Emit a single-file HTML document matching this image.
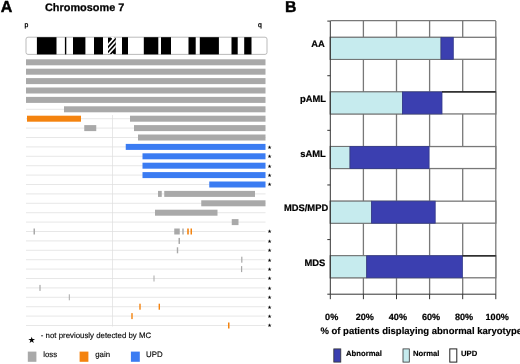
<!DOCTYPE html>
<html><head><meta charset="utf-8"><title>Chromosome 7</title>
<style>
html,body{margin:0;padding:0;background:#fff;}
body{width:520px;height:364px;overflow:hidden;}
svg{display:block;font-family:"Liberation Sans",Arial,sans-serif;text-rendering:geometricPrecision;}
</style></head><body>
<svg width="520" height="364" viewBox="0 0 520 364">
<rect width="520" height="364" fill="#fff"/>
<text x="0.7" y="12.3" font-size="16" font-weight="bold" fill="#000" stroke="#000" stroke-width="0.45">A</text>
<text x="45" y="10.5" font-size="10.9" font-weight="bold" fill="#000" stroke="#000" stroke-width="0.25">Chromosome 7</text>
<text x="24.6" y="27.2" font-size="6.8" fill="#000" stroke="#000" stroke-width="0.3">p</text>
<text x="258" y="27.0" font-size="6.8" fill="#000" stroke="#000" stroke-width="0.3">q</text>
<line x1="26.0" x2="265.5" y1="109.30" y2="109.30" stroke="#dcdcdc" stroke-width="0.7"/>
<line x1="26.0" x2="265.5" y1="118.70" y2="118.70" stroke="#dcdcdc" stroke-width="0.7"/>
<line x1="26.0" x2="265.5" y1="128.10" y2="128.10" stroke="#dcdcdc" stroke-width="0.7"/>
<line x1="26.0" x2="265.5" y1="137.50" y2="137.50" stroke="#dcdcdc" stroke-width="0.7"/>
<line x1="26.0" x2="265.5" y1="146.90" y2="146.90" stroke="#dcdcdc" stroke-width="0.7"/>
<line x1="26.0" x2="265.5" y1="156.30" y2="156.30" stroke="#dcdcdc" stroke-width="0.7"/>
<line x1="26.0" x2="265.5" y1="165.70" y2="165.70" stroke="#dcdcdc" stroke-width="0.7"/>
<line x1="26.0" x2="265.5" y1="175.10" y2="175.10" stroke="#dcdcdc" stroke-width="0.7"/>
<line x1="26.0" x2="265.5" y1="184.50" y2="184.50" stroke="#dcdcdc" stroke-width="0.7"/>
<line x1="26.0" x2="265.5" y1="193.90" y2="193.90" stroke="#dcdcdc" stroke-width="0.7"/>
<line x1="26.0" x2="265.5" y1="203.30" y2="203.30" stroke="#dcdcdc" stroke-width="0.7"/>
<line x1="26.0" x2="265.5" y1="212.70" y2="212.70" stroke="#dcdcdc" stroke-width="0.7"/>
<line x1="26.0" x2="265.5" y1="222.10" y2="222.10" stroke="#dcdcdc" stroke-width="0.7"/>
<line x1="26.0" x2="265.5" y1="231.50" y2="231.50" stroke="#dcdcdc" stroke-width="0.7"/>
<line x1="26.0" x2="265.5" y1="240.90" y2="240.90" stroke="#dcdcdc" stroke-width="0.7"/>
<line x1="26.0" x2="265.5" y1="250.30" y2="250.30" stroke="#dcdcdc" stroke-width="0.7"/>
<line x1="26.0" x2="265.5" y1="259.70" y2="259.70" stroke="#dcdcdc" stroke-width="0.7"/>
<line x1="26.0" x2="265.5" y1="269.10" y2="269.10" stroke="#dcdcdc" stroke-width="0.7"/>
<line x1="26.0" x2="265.5" y1="278.50" y2="278.50" stroke="#dcdcdc" stroke-width="0.7"/>
<line x1="26.0" x2="265.5" y1="287.90" y2="287.90" stroke="#dcdcdc" stroke-width="0.7"/>
<line x1="26.0" x2="265.5" y1="297.30" y2="297.30" stroke="#dcdcdc" stroke-width="0.7"/>
<line x1="26.0" x2="265.5" y1="306.70" y2="306.70" stroke="#dcdcdc" stroke-width="0.7"/>
<line x1="26.0" x2="265.5" y1="316.10" y2="316.10" stroke="#dcdcdc" stroke-width="0.7"/>
<line x1="26.0" x2="265.5" y1="325.50" y2="325.50" stroke="#dcdcdc" stroke-width="0.7"/>
<line x1="112.5" x2="112.5" y1="115" y2="326.5" stroke="#dedede" stroke-width="0.7"/>
<rect x="26.0" y="59.30" width="239.50" height="6.0" fill="#a9a9a9"/>
<rect x="26.0" y="68.70" width="239.50" height="6.0" fill="#a9a9a9"/>
<rect x="26.0" y="78.10" width="239.50" height="6.0" fill="#a9a9a9"/>
<rect x="26.0" y="87.50" width="239.50" height="6.0" fill="#a9a9a9"/>
<rect x="26.0" y="96.90" width="239.50" height="6.0" fill="#a9a9a9"/>
<rect x="64" y="106.30" width="201.50" height="6.0" fill="#a9a9a9"/>
<rect x="27" y="115.70" width="54.00" height="6.0" fill="#f4830f"/>
<rect x="130" y="115.70" width="135.50" height="6.0" fill="#a9a9a9"/>
<rect x="84.25" y="125.10" width="12.00" height="6.0" fill="#a9a9a9"/>
<rect x="134" y="125.10" width="131.50" height="6.0" fill="#a9a9a9"/>
<rect x="138" y="134.50" width="127.50" height="6.0" fill="#a9a9a9"/>
<rect x="125.75" y="143.90" width="139.75" height="6.0" fill="#3b7cf2"/>
<rect x="142.5" y="153.30" width="123.00" height="6.0" fill="#3b7cf2"/>
<rect x="142.5" y="162.70" width="123.00" height="6.0" fill="#3b7cf2"/>
<rect x="142.5" y="172.10" width="123.00" height="6.0" fill="#3b7cf2"/>
<rect x="209.25" y="181.50" width="56.25" height="6.0" fill="#3b7cf2"/>
<rect x="158" y="190.90" width="3.75" height="6.0" fill="#a9a9a9"/>
<rect x="164.25" y="190.90" width="90.75" height="6.0" fill="#a9a9a9"/>
<rect x="201.25" y="200.30" width="64.25" height="6.0" fill="#a9a9a9"/>
<rect x="155" y="209.70" width="62.50" height="6.0" fill="#a9a9a9"/>
<rect x="231.75" y="219.10" width="6.75" height="6.0" fill="#a9a9a9"/>
<rect x="33.5" y="228.50" width="1.50" height="6.0" fill="#a9a9a9"/>
<rect x="174.25" y="228.50" width="5.50" height="6.0" fill="#a9a9a9"/>
<rect x="182.3" y="228.50" width="1.40" height="6.0" fill="#a9a9a9"/>
<rect x="187.2" y="228.50" width="1.60" height="6.0" fill="#f4830f"/>
<rect x="190.5" y="228.50" width="1.50" height="6.0" fill="#f4830f"/>
<rect x="178.5" y="237.90" width="1.50" height="6.0" fill="#a9a9a9"/>
<rect x="176.8" y="247.30" width="1.40" height="6.0" fill="#a9a9a9"/>
<rect x="241.2" y="256.70" width="1.20" height="6.0" fill="#a9a9a9"/>
<rect x="241" y="266.10" width="1.20" height="6.0" fill="#a9a9a9"/>
<rect x="153.5" y="275.50" width="1.00" height="6.0" fill="#a9a9a9"/>
<rect x="39.4" y="284.90" width="1.20" height="6.0" fill="#a9a9a9"/>
<rect x="68.8" y="294.30" width="1.00" height="6.0" fill="#a9a9a9"/>
<rect x="139.3" y="303.70" width="1.40" height="6.0" fill="#f4830f"/>
<rect x="158.6" y="303.70" width="1.40" height="6.0" fill="#f4830f"/>
<rect x="131.3" y="313.10" width="1.40" height="6.0" fill="#f4830f"/>
<rect x="228" y="322.50" width="1.50" height="6.0" fill="#f4830f"/>
<text x="269.6" y="148.70" font-size="5.2" text-anchor="middle" fill="#000">★</text>
<text x="269.6" y="158.10" font-size="5.2" text-anchor="middle" fill="#000">★</text>
<text x="269.6" y="167.50" font-size="5.2" text-anchor="middle" fill="#000">★</text>
<text x="269.6" y="176.90" font-size="5.2" text-anchor="middle" fill="#000">★</text>
<text x="269.6" y="186.30" font-size="5.2" text-anchor="middle" fill="#000">★</text>
<text x="269.6" y="233.30" font-size="5.2" text-anchor="middle" fill="#000">★</text>
<text x="269.6" y="242.70" font-size="5.2" text-anchor="middle" fill="#000">★</text>
<text x="269.6" y="252.10" font-size="5.2" text-anchor="middle" fill="#000">★</text>
<text x="269.6" y="261.50" font-size="5.2" text-anchor="middle" fill="#000">★</text>
<text x="269.6" y="270.90" font-size="5.2" text-anchor="middle" fill="#000">★</text>
<text x="269.6" y="280.30" font-size="5.2" text-anchor="middle" fill="#000">★</text>
<text x="269.6" y="289.70" font-size="5.2" text-anchor="middle" fill="#000">★</text>
<text x="269.6" y="299.10" font-size="5.2" text-anchor="middle" fill="#000">★</text>
<text x="269.6" y="308.50" font-size="5.2" text-anchor="middle" fill="#000">★</text>
<text x="269.6" y="317.90" font-size="5.2" text-anchor="middle" fill="#000">★</text>
<text x="269.6" y="327.30" font-size="5.2" text-anchor="middle" fill="#000">★</text>
<rect x="26" y="37.2" width="241" height="17.20" rx="2" fill="#fff" stroke="#aaa" stroke-width="0.8"/>
<rect x="36.9" y="37.2" width="19.60" height="17.199999999999996" fill="#000"/>
<rect x="64.9" y="37.2" width="1.40" height="17.199999999999996" fill="#000"/>
<rect x="73" y="37.2" width="12.40" height="17.199999999999996" fill="#000"/>
<rect x="94" y="37.2" width="9.00" height="17.199999999999996" fill="#000"/>
<rect x="122" y="37.2" width="6.00" height="17.199999999999996" fill="#000"/>
<rect x="143.8" y="37.2" width="14.50" height="17.199999999999996" fill="#000"/>
<rect x="161" y="37.2" width="10.00" height="17.199999999999996" fill="#000"/>
<rect x="188.5" y="37.2" width="7.20" height="17.199999999999996" fill="#000"/>
<rect x="199.8" y="37.2" width="19.10" height="17.199999999999996" fill="#000"/>
<rect x="231.5" y="37.2" width="6.20" height="17.199999999999996" fill="#000"/>
<rect x="244.2" y="37.2" width="7.30" height="17.199999999999996" fill="#000"/>
<clipPath id="cen"><rect x="108" y="37.6" width="7.8" height="16.5"/></clipPath>
<rect x="108" y="37.6" width="7.8" height="16.5" fill="#000"/>
<g clip-path="url(#cen)" stroke="#fff" stroke-width="1.7"><line x1="106.5" y1="46.4" x2="116.5" y2="35.4"/><line x1="106.5" y1="51.3" x2="116.5" y2="40.3"/><line x1="106.5" y1="56.2" x2="116.5" y2="45.2"/></g>
<path d="M110.8 37 L112.6 39.4 L114.4 37 Z M111 54.8 L112.7 53 L114.4 54.8 Z" fill="#fff"/>
<text x="31.8" y="343.2" font-size="8.8" text-anchor="middle" fill="#000">★</text>
<text x="40.8" y="337.5" font-size="7.85" fill="#000" stroke="#000" stroke-width="0.12">- not previously detected by MC</text>
<rect x="27.8" y="351.6" width="8.6" height="10.2" fill="#a9a9a9"/>
<text x="43.2" y="356.5" font-size="7.85" fill="#000" stroke="#000" stroke-width="0.12">loss</text>
<rect x="79.6" y="351.6" width="8.8" height="10.2" fill="#f4830f"/>
<text x="95.2" y="356.5" font-size="7.85" fill="#000" stroke="#000" stroke-width="0.12">gain</text>
<rect x="130.9" y="351.6" width="8.9" height="10.2" fill="#3b7cf2"/>
<text x="146" y="356.5" font-size="7.85" fill="#000" stroke="#000" stroke-width="0.12">UPD</text>
<text x="285" y="12.1" font-size="15.8" font-weight="bold" fill="#000" stroke="#000" stroke-width="0.4">B</text>
<line x1="363.40" x2="363.40" y1="21.1" y2="294.2" stroke="#787878" stroke-width="1.3"/>
<line x1="396.50" x2="396.50" y1="21.1" y2="294.2" stroke="#787878" stroke-width="1.3"/>
<line x1="429.60" x2="429.60" y1="21.1" y2="294.2" stroke="#787878" stroke-width="1.3"/>
<line x1="462.70" x2="462.70" y1="21.1" y2="294.2" stroke="#787878" stroke-width="1.3"/>
<line x1="330.3" x2="495.8" y1="20.7" y2="20.7" stroke="#787878" stroke-width="1.3"/>
<line x1="495.8" x2="495.8" y1="21.1" y2="294.2" stroke="#787878" stroke-width="1.3"/>
<rect x="330.3" y="37.31" width="165.50" height="22" fill="#fff" stroke="#787878" stroke-width="1.3"/>
<rect x="330.3" y="37.31" width="110.70" height="22" fill="#c6ebee" stroke="#666" stroke-width="0.8"/>
<rect x="441" y="37.31" width="12.30" height="22" fill="#3b3fb0" stroke="#333a8a" stroke-width="0.8"/>
<text x="324.8" y="47.31" font-size="9.4" font-weight="bold" text-anchor="end" fill="#000" stroke="#000" stroke-width="0.2">AA</text>
<rect x="330.3" y="91.93" width="165.50" height="22" fill="#fff" stroke="#787878" stroke-width="1.3"/>
<rect x="330.3" y="91.93" width="72.10" height="22" fill="#c6ebee" stroke="#666" stroke-width="0.8"/>
<rect x="402.4" y="91.93" width="39.60" height="22" fill="#3b3fb0" stroke="#333a8a" stroke-width="0.8"/>
<line x1="442" x2="495.8" y1="91.93" y2="91.93" stroke="#111" stroke-width="1.2"/>
<text x="326" y="101.93" font-size="9.4" font-weight="bold" text-anchor="end" fill="#000" stroke="#000" stroke-width="0.2">pAML</text>
<rect x="330.3" y="146.55" width="165.50" height="22" fill="#fff" stroke="#787878" stroke-width="1.3"/>
<rect x="330.3" y="146.55" width="19.70" height="22" fill="#c6ebee" stroke="#666" stroke-width="0.8"/>
<rect x="350" y="146.55" width="79.10" height="22" fill="#3b3fb0" stroke="#333a8a" stroke-width="0.8"/>
<text x="325.8" y="156.55" font-size="9.4" font-weight="bold" text-anchor="end" fill="#000" stroke="#000" stroke-width="0.2">sAML</text>
<rect x="330.3" y="201.17" width="165.50" height="22" fill="#fff" stroke="#787878" stroke-width="1.3"/>
<rect x="330.3" y="201.17" width="41.30" height="22" fill="#c6ebee" stroke="#666" stroke-width="0.8"/>
<rect x="371.6" y="201.17" width="63.60" height="22" fill="#3b3fb0" stroke="#333a8a" stroke-width="0.8"/>
<text x="328.2" y="211.17" font-size="9.4" font-weight="bold" text-anchor="end" fill="#000" stroke="#000" stroke-width="0.2">MDS/MPD</text>
<rect x="330.3" y="255.79" width="165.50" height="22" fill="#fff" stroke="#787878" stroke-width="1.3"/>
<rect x="330.3" y="255.79" width="36.40" height="22" fill="#c6ebee" stroke="#666" stroke-width="0.8"/>
<rect x="366.7" y="255.79" width="95.70" height="22" fill="#3b3fb0" stroke="#333a8a" stroke-width="0.8"/>
<line x1="462.4" x2="495.8" y1="255.79" y2="255.79" stroke="#111" stroke-width="1.2"/>
<text x="325.3" y="265.79" font-size="9.4" font-weight="bold" text-anchor="end" fill="#000" stroke="#000" stroke-width="0.2">MDS</text>
<line x1="330.3" x2="330.3" y1="21.1" y2="294.2" stroke="#333" stroke-width="1"/>
<line x1="330.3" x2="495.8" y1="294.2" y2="294.2" stroke="#333" stroke-width="1"/>
<line x1="327.3" x2="330.3" y1="21.10" y2="21.10" stroke="#333" stroke-width="1"/>
<line x1="327.3" x2="330.3" y1="75.72" y2="75.72" stroke="#333" stroke-width="1"/>
<line x1="327.3" x2="330.3" y1="130.34" y2="130.34" stroke="#333" stroke-width="1"/>
<line x1="327.3" x2="330.3" y1="184.96" y2="184.96" stroke="#333" stroke-width="1"/>
<line x1="327.3" x2="330.3" y1="239.58" y2="239.58" stroke="#333" stroke-width="1"/>
<line x1="327.3" x2="330.3" y1="294.20" y2="294.20" stroke="#333" stroke-width="1"/>
<line x1="330.30" x2="330.30" y1="294.2" y2="299.2" stroke="#333" stroke-width="1"/>
<line x1="363.40" x2="363.40" y1="294.2" y2="299.2" stroke="#333" stroke-width="1"/>
<line x1="396.50" x2="396.50" y1="294.2" y2="299.2" stroke="#333" stroke-width="1"/>
<line x1="429.60" x2="429.60" y1="294.2" y2="299.2" stroke="#333" stroke-width="1"/>
<line x1="462.70" x2="462.70" y1="294.2" y2="299.2" stroke="#333" stroke-width="1"/>
<line x1="495.80" x2="495.80" y1="294.2" y2="299.2" stroke="#333" stroke-width="1"/>
<text x="331.70" y="319.7" font-size="9.1" font-weight="bold" text-anchor="middle" fill="#000" stroke="#000" stroke-width="0.2">0%</text>
<text x="364.80" y="319.7" font-size="9.1" font-weight="bold" text-anchor="middle" fill="#000" stroke="#000" stroke-width="0.2">20%</text>
<text x="397.90" y="319.7" font-size="9.1" font-weight="bold" text-anchor="middle" fill="#000" stroke="#000" stroke-width="0.2">40%</text>
<text x="431.00" y="319.7" font-size="9.1" font-weight="bold" text-anchor="middle" fill="#000" stroke="#000" stroke-width="0.2">60%</text>
<text x="464.10" y="319.7" font-size="9.1" font-weight="bold" text-anchor="middle" fill="#000" stroke="#000" stroke-width="0.2">80%</text>
<text x="497.20" y="319.7" font-size="9.1" font-weight="bold" text-anchor="middle" fill="#000" stroke="#000" stroke-width="0.2">100%</text>
<text x="320.4" y="334.3" font-size="9.5" font-weight="bold" fill="#000" stroke="#000" stroke-width="0.15">% of patients displaying abnormal karyotype</text>
<rect x="333.8" y="348.9" width="7" height="13.2" fill="#3b3fb0" stroke="#333" stroke-width="0.8"/>
<text x="346" y="356.4" font-size="7.7" font-weight="bold" fill="#000" stroke="#000" stroke-width="0.15">Abnormal</text>
<rect x="403" y="348.9" width="6.3" height="13.2" fill="#c6ebee" stroke="#333" stroke-width="0.8"/>
<text x="413" y="356.4" font-size="7.7" font-weight="bold" fill="#000" stroke="#000" stroke-width="0.15">Normal</text>
<rect x="449.8" y="348.9" width="7" height="13.2" fill="#fff" stroke="#222" stroke-width="1"/>
<text x="461" y="356.4" font-size="7.7" font-weight="bold" fill="#000" stroke="#000" stroke-width="0.15">UPD</text>
</svg>
</body></html>
